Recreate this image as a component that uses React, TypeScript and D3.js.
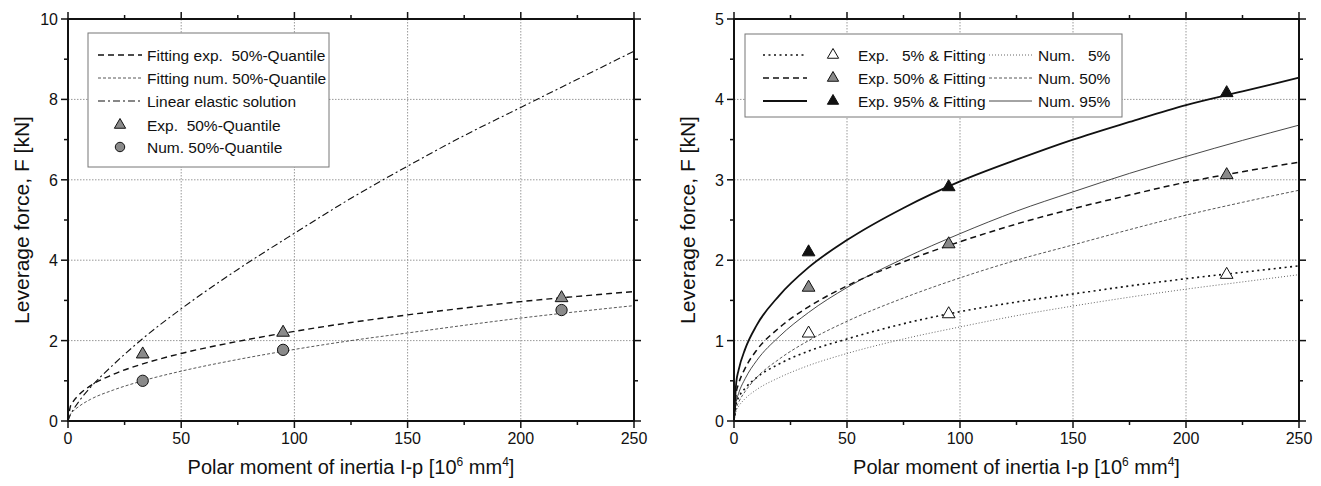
import React, { useEffect, useRef } from 'react';
import * as d3 from 'd3';

const xSamples = [0, 1, 2, 5, 10, 20, 33, 50, 75, 100, 125, 150, 175, 200, 225, 250];
const fitExp50 = [0, 0.35, 0.46, 0.66, 0.88, 1.16, 1.42, 1.68, 1.98, 2.23, 2.45, 2.64, 2.81, 2.97, 3.1, 3.22];
const fitNum50 = [0, 0.16, 0.23, 0.37, 0.54, 0.77, 1.0, 1.24, 1.53, 1.78, 2.0, 2.19, 2.38, 2.56, 2.72, 2.87];
const linearElastic = [0, 0.15, 0.25, 0.5, 0.84, 1.4, 2.05, 2.79, 3.77, 4.67, 5.54, 6.34, 7.1, 7.8, 8.5, 9.2];
const fitExp5 = [0, 0.22, 0.29, 0.41, 0.54, 0.71, 0.87, 1.02, 1.21, 1.36, 1.48, 1.58, 1.68, 1.77, 1.85, 1.93];
const fitExp95 = [0, 0.48, 0.63, 0.9, 1.19, 1.56, 1.91, 2.25, 2.65, 2.98, 3.25, 3.5, 3.72, 3.93, 4.1, 4.27];
const num5 = [0, 0.13, 0.18, 0.28, 0.39, 0.54, 0.69, 0.84, 1.02, 1.17, 1.31, 1.43, 1.54, 1.64, 1.73, 1.82];
const num95 = [0, 0.24, 0.34, 0.53, 0.75, 1.05, 1.35, 1.66, 2.02, 2.33, 2.61, 2.85, 3.08, 3.29, 3.49, 3.68];

// test results
const testX = [33, 95, 218];
const exp5Pts = [1.09, 1.33, 1.82];
const exp50Pts = [1.66, 2.2, 3.06];
const exp95Pts = [2.1, 2.91, 4.08];
const num50Pts = [1.0, 1.77, 2.76];

const xTicks = [0, 50, 100, 150, 200, 250];
const leftYTicks = [0, 2, 4, 6, 8, 10];
const rightYTicks = [0, 1, 2, 3, 4, 5];

const FONT = '"Liberation Sans", Arial, sans-serif';

const STYLES = {
  fitExp: { stroke: '#111', width: 1.4, dash: '6 4' },
  fitNum: { stroke: '#444', width: 0.9, dash: '3 2' },
  linear: { stroke: '#111', width: 1.1, dash: '7 3 2 3' },
  exp5: { stroke: '#111', width: 1.6, dash: '2 3.5' },
  exp50: { stroke: '#111', width: 1.5, dash: '6 4' },
  exp95: { stroke: '#111', width: 1.8, dash: null },
  num5: { stroke: '#555', width: 0.9, dash: '1 2' },
  num50: { stroke: '#444', width: 0.9, dash: '3 2' },
  num95: { stroke: '#333', width: 0.9, dash: null },
};

const App = () => {
  const svgRef = useRef(null);

  useEffect(() => {
    const svg = d3.select(svgRef.current);
    svg.selectAll('*').remove();

    const drawPanel = (left, right, yMax, yTicks, yMinor) => {
      const top = 19;
      const bottom = 421;
      const x = d3.scaleLinear().domain([0, 250]).range([left, right]);
      const y = d3.scaleLinear().domain([0, yMax]).range([bottom, top]);
      const g = svg.append('g');

      // dotted grid
      g.selectAll('.gx')
        .data(xTicks.slice(1, -1))
        .enter().append('line')
        .attr('x1', d => x(d)).attr('x2', d => x(d))
        .attr('y1', top).attr('y2', bottom)
        .attr('stroke', '#999').attr('stroke-width', 1).attr('stroke-dasharray', '1.5 1.5');
      g.selectAll('.gy')
        .data(yTicks.slice(1, -1))
        .enter().append('line')
        .attr('x1', left).attr('x2', right)
        .attr('y1', d => y(d)).attr('y2', d => y(d))
        .attr('stroke', '#999').attr('stroke-width', 1).attr('stroke-dasharray', '1.5 1.5');

      const line = d3.line()
        .x(d => x(d[0]))
        .y(d => y(d[1]))
        .curve(d3.curveMonotoneX);

      const addCurve = (vals, st) => {
        g.append('path')
          .datum(xSamples.map((xv, i) => [xv, vals[i]]))
          .attr('d', line)
          .attr('fill', 'none')
          .attr('stroke', st.stroke)
          .attr('stroke-width', st.width)
          .attr('stroke-dasharray', st.dash);
      };

      const axes = () => {
        const a = svg.append('g');
        const xMinor = d3.range(25, 250, 50);
        const tick = (x1, y1, x2, y2) => a.append('line')
          .attr('x1', x1).attr('y1', y1).attr('x2', x2).attr('y2', y2)
          .attr('stroke', '#111').attr('stroke-width', 1.5);
        xTicks.forEach(v => { tick(x(v), bottom, x(v), bottom + 7); tick(x(v), top, x(v), top - 7); });
        xMinor.forEach(v => { tick(x(v), bottom, x(v), bottom + 4); tick(x(v), top, x(v), top - 4); });
        yTicks.forEach(v => { tick(left, y(v), left - 7, y(v)); tick(right, y(v), right + 7, y(v)); });
        yMinor.forEach(v => { tick(left, y(v), left - 4, y(v)); tick(right, y(v), right + 4, y(v)); });
        a.append('rect')
          .attr('x', left).attr('y', top)
          .attr('width', right - left).attr('height', bottom - top)
          .attr('fill', 'none').attr('stroke', '#111').attr('stroke-width', 2);

        a.selectAll('.xl')
          .data(xTicks)
          .enter().append('text')
          .attr('x', d => x(d)).attr('y', bottom + 23)
          .attr('text-anchor', 'middle')
          .style('font-family', FONT).style('font-size', '16px').attr('fill', '#111')
          .text(d => d);
        a.selectAll('.yl')
          .data(yTicks)
          .enter().append('text')
          .attr('x', left - 10).attr('y', d => y(d) + 6)
          .attr('text-anchor', 'end')
          .style('font-family', FONT).style('font-size', '16px').attr('fill', '#111')
          .text(d => d);

        const xt = a.append('text')
          .attr('x', (left + right) / 2).attr('y', 474)
          .attr('text-anchor', 'middle')
          .style('font-family', FONT).style('font-size', '20px').attr('fill', '#111');
        xt.append('tspan').text('Polar moment of inertia I-p [10');
        xt.append('tspan').attr('dy', -8).style('font-size', '12px').text('6');
        xt.append('tspan').attr('dy', 8).text(' mm');
        xt.append('tspan').attr('dy', -8).style('font-size', '12px').text('4');
        xt.append('tspan').attr('dy', 8).text(']');

        a.append('text')
          .attr('transform', `translate(${left - 39},${(top + bottom) / 2}) rotate(-90)`)
          .attr('text-anchor', 'middle')
          .style('font-family', FONT).style('font-size', '21px').attr('fill', '#111')
          .text('Leverage force, F [kN]');
      };

      return { g, x, y, addCurve, axes };
    };

    const tri = d3.symbol(d3.symbolTriangle).size(70);
    const addMarkers = (g, x, y, vals, fill, shape) => {
      g.selectAll(null)
        .data(testX.map((xv, i) => [xv, vals[i]]))
        .enter().append('path')
        .attr('d', shape === 'circle' ? d3.symbol(d3.symbolCircle).size(100)() : tri())
        .attr('transform', d => `translate(${x(d[0])},${y(d[1])})`)
        .attr('fill', fill)
        .attr('stroke', '#111')
        .attr('stroke-width', 1);
    };

    const legendLine = (g, x1, x2, yy, st) => {
      g.append('line')
        .attr('x1', x1).attr('x2', x2).attr('y1', yy).attr('y2', yy)
        .attr('stroke', st.stroke).attr('stroke-width', st.width)
        .attr('stroke-dasharray', st.dash);
    };
    const legendText = (g, xx, yy, t) => {
      g.append('text')
        .attr('x', xx).attr('y', yy + 5.5)
        .attr('xml:space', 'preserve')
        .style('white-space', 'pre')
        .style('font-family', FONT).style('font-size', '15.5px').attr('fill', '#111')
        .text(t);
    };
    const legendMarker = (g, xx, yy, fill, shape) => {
      g.append('path')
        .attr('d', shape === 'circle' ? d3.symbol(d3.symbolCircle).size(70)() : d3.symbol(d3.symbolTriangle).size(55)())
        .attr('transform', `translate(${xx},${yy})`)
        .attr('fill', fill).attr('stroke', '#111').attr('stroke-width', 1);
    };

    // ---- left panel ----
    const L = drawPanel(68, 634, 10, leftYTicks, [1, 3, 5, 7, 9]);
    L.addCurve(linearElastic, STYLES.linear);
    L.addCurve(fitExp50, STYLES.fitExp);
    L.addCurve(fitNum50, STYLES.fitNum);
    addMarkers(L.g, L.x, L.y, exp50Pts, '#8a8a8a', 'tri');
    addMarkers(L.g, L.x, L.y, num50Pts, '#8a8a8a', 'circle');

    const lg = svg.append('g');
    lg.append('rect')
      .attr('x', 88).attr('y', 33).attr('width', 241).attr('height', 134)
      .attr('fill', '#fff').attr('stroke', '#777').attr('stroke-width', 1);
    const lRows = [55, 78, 101, 125, 147];
    legendLine(lg, 98, 142, lRows[0], STYLES.fitExp);
    legendText(lg, 147, lRows[0], 'Fitting exp.  50%-Quantile');
    legendLine(lg, 98, 142, lRows[1], STYLES.fitNum);
    legendText(lg, 147, lRows[1], 'Fitting num. 50%-Quantile');
    legendLine(lg, 98, 142, lRows[2], STYLES.linear);
    legendText(lg, 147, lRows[2], 'Linear elastic solution');
    legendMarker(lg, 120, lRows[3], '#8a8a8a', 'tri');
    legendText(lg, 147, lRows[3], 'Exp.  50%-Quantile');
    legendMarker(lg, 120, lRows[4], '#8a8a8a', 'circle');
    legendText(lg, 147, lRows[4], 'Num. 50%-Quantile');
    L.axes();

    // ---- right panel ----
    const R = drawPanel(734, 1299, 5, rightYTicks, [0.5, 1.5, 2.5, 3.5, 4.5]);
    R.addCurve(num5, STYLES.num5);
    R.addCurve(fitNum50, STYLES.num50);
    R.addCurve(num95, STYLES.num95);
    R.addCurve(fitExp5, STYLES.exp5);
    R.addCurve(fitExp50, STYLES.exp50);
    R.addCurve(fitExp95, STYLES.exp95);
    addMarkers(R.g, R.x, R.y, exp5Pts, '#fff', 'tri');
    addMarkers(R.g, R.x, R.y, exp50Pts, '#8a8a8a', 'tri');
    addMarkers(R.g, R.x, R.y, exp95Pts, '#111', 'tri');

    const rg = svg.append('g');
    rg.append('rect')
      .attr('x', 745).attr('y', 34).attr('width', 377).attr('height', 83)
      .attr('fill', '#fff').attr('stroke', '#777').attr('stroke-width', 1);
    const rRows = [55, 78, 101];
    const rowDefs = [
      { exp: STYLES.exp5, fill: '#fff', label: 'Exp.   5% & Fitting', num: STYLES.num5, numLabel: 'Num.   5%' },
      { exp: STYLES.exp50, fill: '#8a8a8a', label: 'Exp. 50% & Fitting', num: STYLES.num50, numLabel: 'Num. 50%' },
      { exp: STYLES.exp95, fill: '#111', label: 'Exp. 95% & Fitting', num: STYLES.num95, numLabel: 'Num. 95%' },
    ];
    rowDefs.forEach((r, i) => {
      legendLine(rg, 763, 807, rRows[i], r.exp);
      legendMarker(rg, 833, rRows[i], r.fill, 'tri');
      legendText(rg, 858, rRows[i], r.label);
      legendLine(rg, 989, 1032, rRows[i], r.num);
      legendText(rg, 1038, rRows[i], r.numLabel);
    });
    R.axes();
  }, []);

  return (
    <svg
      ref={svgRef}
      width={1321}
      height={486}
      style={{ position: 'absolute', left: 0, top: 0, background: '#fff' }}
    ></svg>
  );
};

export default App;
